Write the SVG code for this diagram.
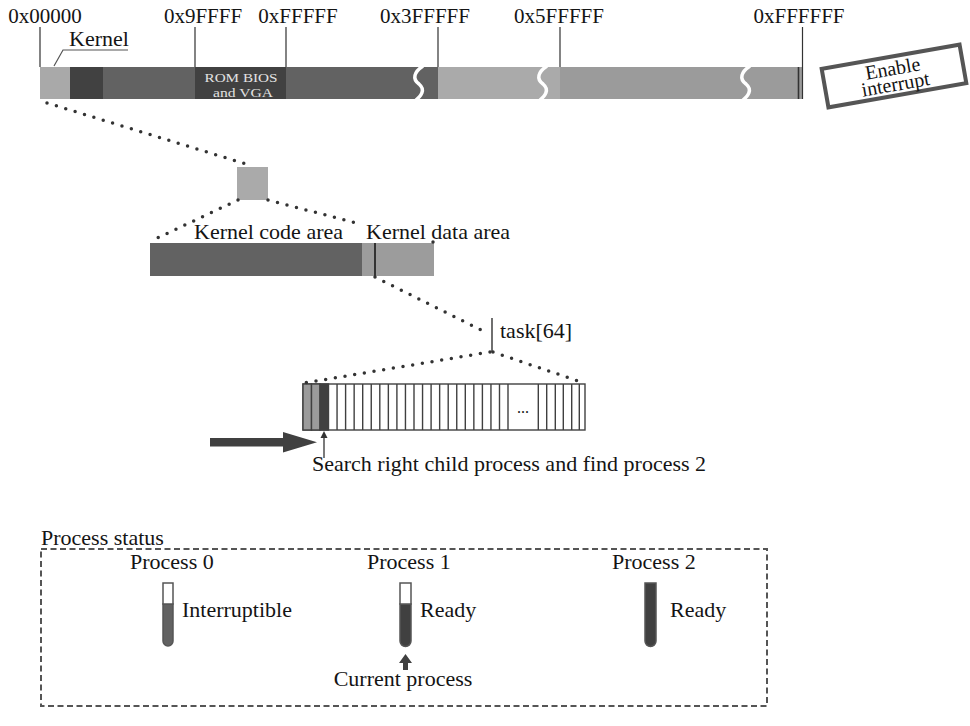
<svg xmlns="http://www.w3.org/2000/svg" width="970" height="726" viewBox="0 0 970 726">
  <defs>
    <style>
      text { font-family: "Liberation Serif", "Times New Roman", serif; fill: #141414; }
      .lbl { font-size: 22px; }
      .hex { font-size: 21px; text-anchor: middle; }
      .tick { stroke: #333; stroke-width: 1.2; fill: none; }
      .dots { stroke: #333; stroke-width: 3.5; stroke-linecap: round; stroke-dasharray: 0 9.8; fill: none; }
      .brk { stroke: #fff; stroke-width: 3.5; fill: none; }
      .cell { fill: #fff; stroke: #404040; stroke-width: 1.4; }
      .tube { stroke: #555; stroke-width: 1.5; }
      .rom { font-size: 13.5px; text-anchor: middle; fill: #e2e2e2; }
    </style>
  </defs>
  <rect width="970" height="726" fill="#fff"/>

  <!-- physical memory strip -->
  <g id="memory">
    <rect x="40" y="67" width="30" height="32" fill="#a9a9a9"/>
    <rect x="70" y="67" width="33" height="32" fill="#414141"/>
    <rect x="103" y="67" width="92" height="32" fill="#626262"/>
    <rect x="195" y="67" width="91" height="32" fill="#414141"/>
    <rect x="286" y="67" width="152" height="32" fill="#626262"/>
    <rect x="438" y="67" width="122" height="32" fill="#aaaaaa"/>
    <rect x="560" y="67" width="242" height="32" fill="#9b9b9b"/>
    <path class="brk" d="M423 66 C414 72, 412 79, 419 84 C426 90, 421 96, 415 101"/>
    <path class="brk" d="M547 66 C538 72, 536 79, 543 84 C550 90, 545 96, 539 101"/>
    <path class="brk" d="M750 66 C741 72, 739 79, 746 84 C753 90, 748 96, 742 101"/>
    <line x1="798.5" y1="67" x2="798.5" y2="99" stroke="#333" stroke-width="1.6"/>
    <text class="rom" x="241" y="81.5" textLength="73" lengthAdjust="spacingAndGlyphs">ROM BIOS</text>
    <text class="rom" x="243" y="96.5" textLength="60" lengthAdjust="spacingAndGlyphs">and VGA</text>
    <path class="tick" d="M40 27V67M195 27V67M286 27V67M438 27V67M560 27V67M802.5 27V99"/>
    <text class="hex" x="45" y="23">0x00000</text>
    <text class="hex" x="203" y="23">0x9FFFF</text>
    <text class="hex" x="298" y="23">0xFFFFF</text>
    <text class="hex" x="425" y="23">0x3FFFFF</text>
    <text class="hex" x="559" y="23">0x5FFFFF</text>
    <text class="hex" x="799" y="23">0xFFFFFF</text>
    <path d="M128 50H63L54 66" fill="none" stroke="#555" stroke-width="1.2"/>
    <text class="lbl" x="69" y="46">Kernel</text>
  </g>

  <!-- interrupt flag tag -->
  <g id="enable-interrupt" transform="translate(894 76) rotate(-10)">
    <rect x="-70" y="-19.5" width="140" height="39" fill="#fff" stroke="#555" stroke-width="4"/>
    <text x="0" y="-1" font-size="20" text-anchor="middle">Enable</text>
    <text x="0" y="15" font-size="20" text-anchor="middle">interrupt</text>
  </g>

  <!-- kernel block, magnified -->
  <g id="kernel-block">
    <rect x="237" y="167" width="31" height="33" fill="#aaaaaa"/>
  </g>

  <g id="kernel-areas">
    <rect x="150" y="243" width="212" height="33" fill="#626262"/>
    <rect x="362" y="243" width="72" height="33" fill="#9c9c9c"/>
    <line x1="375" y1="243" x2="375" y2="276" stroke="#333" stroke-width="2"/>
    <text class="lbl" x="194" y="239">Kernel code area</text>
    <text class="lbl" x="366" y="239">Kernel data area</text>
  </g>

  <!-- task[64] table -->
  <g id="task-array">
    <line x1="492" y1="318" x2="492" y2="352" stroke="#333" stroke-width="1.4"/>
    <text class="lbl" x="500" y="338">task[64]</text>
    <rect x="303" y="384" width="282" height="46" class="cell"/>
    <rect x="303" y="384" width="8.5" height="46" fill="#9b9b9b" stroke="#404040" stroke-width="1.4"/>
    <rect x="311.5" y="384" width="8.5" height="46" fill="#9b9b9b" stroke="#404040" stroke-width="1.4"/>
    <rect x="320" y="384" width="8.5" height="46" fill="#404040" stroke="#404040" stroke-width="1.4"/>
    <path stroke="#404040" stroke-width="1.4" fill="none" d="M337.05 384V430M345.6 384V430M354.15 384V430M362.7 384V430M371.25 384V430M379.8 384V430M388.35 384V430M396.9 384V430M405.45 384V430M414 384V430M422.55 384V430M431.1 384V430M439.65 384V430M448.2 384V430M456.75 384V430M465.3 384V430M473.85 384V430M482.4 384V430M490.95 384V430M499.5 384V430M508 384V430M538.3 384V430M546.7 384V430M555.3 384V430M563.3 384V430M571.7 384V430M579.3 384V430"/>
    <text x="523" y="413" font-size="16" text-anchor="middle">...</text>
  </g>

  <!-- process status panel -->
  <g id="process-status">
    <text class="lbl" x="41" y="545">Process status</text>
    <rect x="41" y="549" width="726" height="157" fill="none" stroke="#555" stroke-width="2" stroke-dasharray="6 3.5"/>
  </g>

  <g id="process-0">
    <text class="lbl" x="130" y="569">Process 0</text>
    <path class="tube" fill="#626262" d="M163 604V641A5 5 0 0 0 173 641V604Z"/>
    <rect class="tube" x="163" y="583" width="10" height="21" fill="#fff"/>
    <text class="lbl" x="182" y="617">Interruptible</text>
  </g>

  <g id="process-1">
    <text class="lbl" x="367" y="569">Process 1</text>
    <path class="tube" fill="#404040" d="M400 604V641A5.5 5.5 0 0 0 411 641V604Z"/>
    <rect class="tube" x="400" y="583" width="11" height="21" fill="#fff"/>
    <text class="lbl" x="420" y="617">Ready</text>
    <path d="M399 663L405.5 654L412 663H408V670H403V663Z" fill="#404040"/>
    <text class="lbl" x="403" y="686" text-anchor="middle">Current process</text>
  </g>

  <g id="process-2">
    <text class="lbl" x="612" y="569">Process 2</text>
    <path class="tube" fill="#404040" d="M645 583V641A5.5 5.5 0 0 0 656 641V583Z"/>
    <text class="lbl" x="670" y="617">Ready</text>
  </g>

  <!-- zoom guides and pointers -->
  <g id="connectors">
    <path class="dots" d="M47 103L246 164"/>
    <path class="dots" d="M238 200L151 241"/>
    <path class="dots" d="M268 200L362 224.5"/>
    <circle cx="433" cy="242" r="1.75" fill="#333"/>
    <path class="dots" d="M375 277L487 333"/>
    <path class="dots" d="M490 352L304 383"/>
    <path class="dots" d="M493 352L584 383"/>
    <path d="M210 438H285V446.5H210Z M283 432L317 442.2L283 452.5Z" fill="#404040"/>
    <line x1="324" y1="437" x2="324" y2="458" stroke="#333" stroke-width="1.3"/>
    <path d="M320.5 438L324 431L327.5 438Z" fill="#333"/>
    <text class="lbl" x="312" y="471">Search right child process and find process 2</text>
  </g>
</svg>
